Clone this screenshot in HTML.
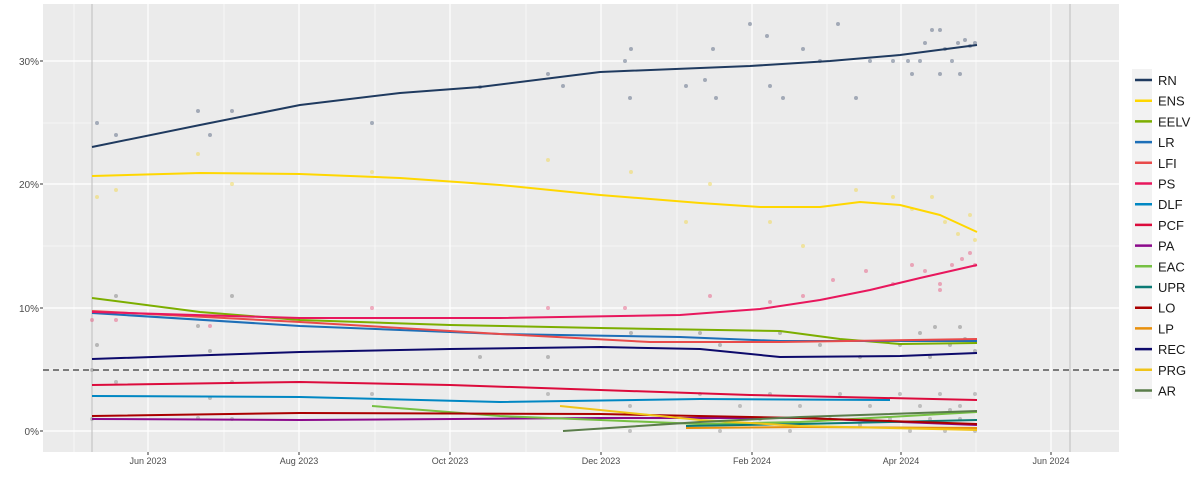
<!DOCTYPE html>
<html><head><meta charset="utf-8"><style>
body{margin:0;background:#fff;font-family:"Liberation Sans",sans-serif;}
svg{display:block}
</style></head><body>
<svg width="1200" height="480" xmlns="http://www.w3.org/2000/svg">
<rect x="0" y="0" width="1200" height="480" fill="#fff"/>
<rect x="43" y="4" width="1076" height="448" fill="#ebebeb"/>
<g stroke="#fff" stroke-width="0.6">
<line x1="43" x2="1119" y1="369" y2="369"/><line x1="43" x2="1119" y1="246" y2="246"/><line x1="43" x2="1119" y1="123" y2="123"/>
<line y1="4" y2="452" x1="74" x2="74"/><line y1="4" y2="452" x1="224" x2="224"/><line y1="4" y2="452" x1="375" x2="375"/><line y1="4" y2="452" x1="526" x2="526"/><line y1="4" y2="452" x1="677" x2="677"/><line y1="4" y2="452" x1="827" x2="827"/><line y1="4" y2="452" x1="976" x2="976"/>
</g>
<g stroke="#fff" stroke-width="1.2">
<line x1="43" x2="1119" y1="431" y2="431"/><line x1="43" x2="1119" y1="308" y2="308"/><line x1="43" x2="1119" y1="184" y2="184"/><line x1="43" x2="1119" y1="61" y2="61"/>
<line y1="4" y2="452" x1="148" x2="148"/><line y1="4" y2="452" x1="299" x2="299"/><line y1="4" y2="452" x1="450" x2="450"/><line y1="4" y2="452" x1="601" x2="601"/><line y1="4" y2="452" x1="752" x2="752"/><line y1="4" y2="452" x1="901" x2="901"/><line y1="4" y2="452" x1="1051" x2="1051"/>
</g>
<line x1="92" x2="92" y1="4" y2="452" stroke="#bdbdbd" stroke-width="1"/>
<line x1="1070" x2="1070" y1="4" y2="452" stroke="#bdbdbd" stroke-width="1"/>
<g opacity="0.45">
<g fill="#4a5a78">
<circle cx="97" cy="123" r="2"/><circle cx="116" cy="135" r="2"/><circle cx="198" cy="111" r="2"/><circle cx="210" cy="135" r="2"/><circle cx="232" cy="111" r="2"/><circle cx="372" cy="123" r="2"/><circle cx="480" cy="87" r="2"/><circle cx="548" cy="74" r="2"/><circle cx="563" cy="86" r="2"/><circle cx="625" cy="61" r="2"/><circle cx="630" cy="98" r="2"/><circle cx="631" cy="49" r="2"/><circle cx="686" cy="86" r="2"/><circle cx="705" cy="80" r="2"/><circle cx="716" cy="98" r="2"/><circle cx="713" cy="49" r="2"/><circle cx="750" cy="24" r="2"/><circle cx="767" cy="36" r="2"/><circle cx="770" cy="86" r="2"/><circle cx="783" cy="98" r="2"/><circle cx="803" cy="49" r="2"/><circle cx="820" cy="61" r="2"/><circle cx="838" cy="24" r="2"/><circle cx="856" cy="98" r="2"/><circle cx="870" cy="61" r="2"/><circle cx="893" cy="61" r="2"/><circle cx="908" cy="61" r="2"/><circle cx="912" cy="74" r="2"/><circle cx="925" cy="43" r="2"/><circle cx="932" cy="30" r="2"/><circle cx="940" cy="74" r="2"/><circle cx="945" cy="49" r="2"/><circle cx="952" cy="61" r="2"/><circle cx="958" cy="43" r="2"/><circle cx="965" cy="40" r="2"/><circle cx="970" cy="46" r="2"/><circle cx="975" cy="43" r="2"/><circle cx="920" cy="61" r="2"/><circle cx="940" cy="30" r="2"/><circle cx="960" cy="74" r="2"/>
</g>
<g fill="#f2d640">
<circle cx="97" cy="197" r="2"/><circle cx="116" cy="190" r="2"/><circle cx="198" cy="154" r="2"/><circle cx="232" cy="184" r="2"/><circle cx="372" cy="172" r="2"/><circle cx="548" cy="160" r="2"/><circle cx="631" cy="172" r="2"/><circle cx="686" cy="222" r="2"/><circle cx="710" cy="184" r="2"/><circle cx="770" cy="222" r="2"/><circle cx="803" cy="246" r="2"/><circle cx="856" cy="190" r="2"/><circle cx="893" cy="197" r="2"/><circle cx="912" cy="209" r="2"/><circle cx="932" cy="197" r="2"/><circle cx="945" cy="222" r="2"/><circle cx="958" cy="234" r="2"/><circle cx="970" cy="215" r="2"/><circle cx="975" cy="240" r="2"/>
</g>
<g fill="#e8507a">
<circle cx="92" cy="320" r="2"/><circle cx="116" cy="320" r="2"/><circle cx="210" cy="326" r="2"/><circle cx="372" cy="308" r="2"/><circle cx="548" cy="308" r="2"/><circle cx="625" cy="308" r="2"/><circle cx="710" cy="296" r="2"/><circle cx="770" cy="302" r="2"/><circle cx="803" cy="296" r="2"/><circle cx="833" cy="280" r="2"/><circle cx="866" cy="271" r="2"/><circle cx="893" cy="284" r="2"/><circle cx="912" cy="265" r="2"/><circle cx="925" cy="271" r="2"/><circle cx="940" cy="284" r="2"/><circle cx="952" cy="265" r="2"/><circle cx="962" cy="259" r="2"/><circle cx="970" cy="253" r="2"/><circle cx="975" cy="265" r="2"/><circle cx="940" cy="290" r="2"/>
</g>
<g fill="#777">
<circle cx="97" cy="345" r="2"/><circle cx="116" cy="296" r="2"/><circle cx="198" cy="326" r="2"/><circle cx="232" cy="296" r="2"/><circle cx="210" cy="351" r="2"/><circle cx="480" cy="357" r="2"/><circle cx="548" cy="357" r="2"/><circle cx="631" cy="333" r="2"/><circle cx="700" cy="333" r="2"/><circle cx="720" cy="345" r="2"/><circle cx="780" cy="333" r="2"/><circle cx="820" cy="345" r="2"/><circle cx="860" cy="357" r="2"/><circle cx="900" cy="345" r="2"/><circle cx="920" cy="333" r="2"/><circle cx="935" cy="327" r="2"/><circle cx="950" cy="345" r="2"/><circle cx="965" cy="339" r="2"/><circle cx="975" cy="351" r="2"/><circle cx="930" cy="357" r="2"/><circle cx="960" cy="327" r="2"/>
</g>
<g fill="#888">
<circle cx="92" cy="370" r="2"/><circle cx="116" cy="382" r="2"/><circle cx="210" cy="398" r="2"/><circle cx="232" cy="382" r="2"/><circle cx="372" cy="394" r="2"/><circle cx="548" cy="394" r="2"/><circle cx="630" cy="406" r="2"/><circle cx="700" cy="394" r="2"/><circle cx="740" cy="406" r="2"/><circle cx="770" cy="394" r="2"/><circle cx="800" cy="406" r="2"/><circle cx="840" cy="394" r="2"/><circle cx="870" cy="406" r="2"/><circle cx="900" cy="394" r="2"/><circle cx="920" cy="406" r="2"/><circle cx="940" cy="394" r="2"/><circle cx="960" cy="406" r="2"/><circle cx="975" cy="394" r="2"/>
<circle cx="92" cy="419" r="2"/><circle cx="198" cy="418" r="2"/><circle cx="232" cy="419" r="2"/><circle cx="600" cy="419" r="2"/><circle cx="630" cy="431" r="2"/><circle cx="700" cy="419" r="2"/><circle cx="720" cy="431" r="2"/><circle cx="760" cy="419" r="2"/><circle cx="790" cy="431" r="2"/><circle cx="830" cy="419" r="2"/><circle cx="860" cy="425" r="2"/><circle cx="890" cy="419" r="2"/><circle cx="910" cy="431" r="2"/><circle cx="930" cy="419" r="2"/><circle cx="945" cy="431" r="2"/><circle cx="960" cy="419" r="2"/><circle cx="975" cy="431" r="2"/><circle cx="950" cy="410" r="2"/>
</g>
</g>
<line x1="43" x2="1119" y1="370" y2="370" stroke="#555" stroke-width="1.5" stroke-dasharray="6,4"/>
<g fill="none" stroke-width="2" stroke-linejoin="round">
<polyline stroke="#1f3a5f" points="92,147 200,125 300,105 400,93 480,87 600,72 750,66 830,61 900,55 977,45"/>
<polyline stroke="#ffd700" points="92,176 200,173 300,174 400,178 500,185 600,195 700,203 760,207 820,207 860,202 900,205 940,215 977,232"/>
<polyline stroke="#7cae00" points="92,298 200,312 300,320 450,325 600,328 780,331 840,339 900,344 977,343"/>
<polyline stroke="#1d6fb8" points="92,313 300,326 500,334 680,337 780,341 977,341"/>
<polyline stroke="#e84a4a" points="92,311 300,322 500,334 650,342 780,342 977,339"/>
<polyline stroke="#e8175d" points="92,312 300,318 500,318 680,315 760,309 820,300 870,290 920,278 977,265"/>
<polyline stroke="#0087c3" points="92,396 300,397 500,402 700,399 890,400"/>
<polyline stroke="#dc0b3c" points="92,385 300,382 450,385 600,390 750,395 977,400"/>
<polyline stroke="#8b0a8b" points="92,419 300,420 600,418 800,418 977,425"/>
<polyline stroke="#76c043" points="372,406 500,416 600,420 700,424 800,422 977,412"/>
<polyline stroke="#0b7a75" points="686,426 800,424 977,420"/>
<polyline stroke="#aa0000" points="92,416 300,413 600,414 800,418 977,424"/>
<polyline stroke="#e8900c" points="686,428 800,427 977,428"/>
<polyline stroke="#0d0a6b" points="92,359 300,352 450,349 600,347 700,349 780,357 900,356 977,353"/>
<polyline stroke="#f0c419" points="560,406 700,420 800,426 977,430"/>
<polyline stroke="#5a7d4a" points="563,431 700,422 800,417 977,411"/>
</g>
<g font-size="10" fill="#4d4d4d" text-anchor="end">
<text x="39" y="65">30%</text><text x="39" y="188">20%</text><text x="39" y="312">10%</text><text x="39" y="435">0%</text>
</g>
<g stroke="#333" stroke-width="1"><line x1="40" x2="43" y1="61" y2="61"/><line x1="40" x2="43" y1="184" y2="184"/><line x1="40" x2="43" y1="308" y2="308"/><line x1="40" x2="43" y1="431" y2="431"/>
<line x1="148" x2="148" y1="452" y2="455"/><line x1="299" x2="299" y1="452" y2="455"/><line x1="450" x2="450" y1="452" y2="455"/><line x1="601" x2="601" y1="452" y2="455"/><line x1="752" x2="752" y1="452" y2="455"/><line x1="901" x2="901" y1="452" y2="455"/><line x1="1051" x2="1051" y1="452" y2="455"/></g>
<g font-size="9" fill="#4d4d4d" text-anchor="middle">
<text x="148" y="464">Jun 2023</text><text x="299" y="464">Aug 2023</text><text x="450" y="464">Oct 2023</text><text x="601" y="464">Dec 2023</text><text x="752" y="464">Feb 2024</text><text x="901" y="464">Apr 2024</text><text x="1051" y="464">Jun 2024</text>
</g>
<rect x="1132" y="69" width="20" height="330" fill="#f2f2f2"/>
<g stroke-width="2.5">
<line x1="1135" x2="1152" y1="80" y2="80" stroke="#1f3a5f"/>
<line x1="1135" x2="1152" y1="100.7" y2="100.7" stroke="#ffd700"/>
<line x1="1135" x2="1152" y1="121.4" y2="121.4" stroke="#7cae00"/>
<line x1="1135" x2="1152" y1="142.1" y2="142.1" stroke="#1d6fb8"/>
<line x1="1135" x2="1152" y1="162.8" y2="162.8" stroke="#e84a4a"/>
<line x1="1135" x2="1152" y1="183.5" y2="183.5" stroke="#e8175d"/>
<line x1="1135" x2="1152" y1="204.2" y2="204.2" stroke="#0087c3"/>
<line x1="1135" x2="1152" y1="224.9" y2="224.9" stroke="#dc0b3c"/>
<line x1="1135" x2="1152" y1="245.6" y2="245.6" stroke="#8b0a8b"/>
<line x1="1135" x2="1152" y1="266.3" y2="266.3" stroke="#76c043"/>
<line x1="1135" x2="1152" y1="287" y2="287" stroke="#0b7a75"/>
<line x1="1135" x2="1152" y1="307.7" y2="307.7" stroke="#aa0000"/>
<line x1="1135" x2="1152" y1="328.4" y2="328.4" stroke="#e8900c"/>
<line x1="1135" x2="1152" y1="349.1" y2="349.1" stroke="#0d0a6b"/>
<line x1="1135" x2="1152" y1="369.8" y2="369.8" stroke="#f0c419"/>
<line x1="1135" x2="1152" y1="390.5" y2="390.5" stroke="#5a7d4a"/>
</g>
<g font-size="13" fill="#1a1a1a">
<text x="1158" y="85">RN</text><text x="1158" y="105.7">ENS</text><text x="1158" y="126.4">EELV</text><text x="1158" y="147.1">LR</text><text x="1158" y="167.8">LFI</text><text x="1158" y="188.5">PS</text><text x="1158" y="209.2">DLF</text><text x="1158" y="229.9">PCF</text><text x="1158" y="250.6">PA</text><text x="1158" y="271.3">EAC</text><text x="1158" y="292">UPR</text><text x="1158" y="312.7">LO</text><text x="1158" y="333.4">LP</text><text x="1158" y="354.1">REC</text><text x="1158" y="374.8">PRG</text><text x="1158" y="395.5">AR</text>
</g>
</svg>
</body></html>
